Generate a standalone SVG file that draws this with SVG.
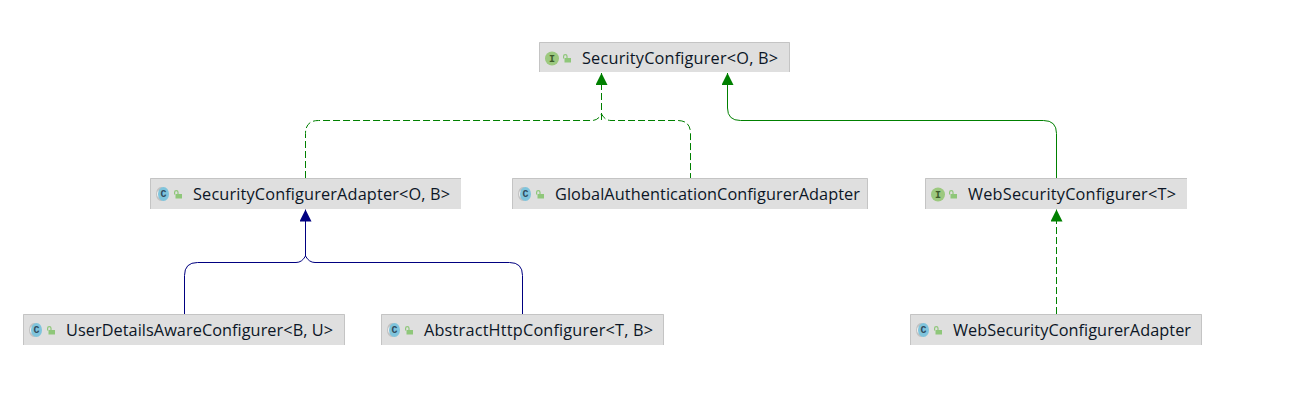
<svg xmlns="http://www.w3.org/2000/svg" width="1310" height="412" viewBox="0 0 1310 412">
<style>
.box{fill:#dfdfdf}
.top{fill:none;stroke:#c4c4c4;stroke-width:1}
.t{font-family:"Open Sans","Noto Sans","Liberation Sans",sans-serif;font-size:16.300px;fill:#0c1626}
.g{fill:none;stroke:#008000;stroke-width:1}
.d{stroke-dasharray:7 3}
.b{fill:none;stroke:#000080;stroke-width:1}
.ibg{fill:#9cc97f}
.il{font-family:"Liberation Mono",monospace;font-size:10px;font-weight:bold;fill:#3d5a2a;text-anchor:middle}
.cbg{fill:#7fc4dc}
.cb{fill:#c2c2c2}
.cl{font-family:"Liberation Mono",monospace;font-size:10px;font-weight:bold;fill:#2f4a5c;text-anchor:middle}
.lk{fill:#8fc77a}
.ls{fill:none;stroke:#8fc77a;stroke-width:1.200}
</style>
<defs>
<marker id="ag" markerUnits="userSpaceOnUse" markerWidth="12" markerHeight="12" refX="12" refY="6" orient="auto"><path d="M0,0L12,6L0,12Z" fill="#008000"/></marker>
<marker id="ab" markerUnits="userSpaceOnUse" markerWidth="12" markerHeight="12" refX="12" refY="6" orient="auto"><path d="M0,0L12,6L0,12Z" fill="#000080"/></marker>
<g id="lock"><rect class="lk" x="1.500" y="4" width="6.500" height="4.500"/><path class="ls" d="M0.600,4.500V2.200Q0.600,0.600 2.300,0.600Q4,0.600 4,2.200V4"/></g>
<g id="ii"><circle class="ibg" cx="0" cy="0.500" r="7"/><text class="il" x="0" y="3.500">I</text></g>
<g id="ci"><ellipse class="cb" cx="-2" cy="0" rx="5" ry="7"/><circle cx="-2" cy="0" r="4" fill="#eeeeee"/><ellipse class="cbg" cx="0.500" cy="0" rx="5.500" ry="7"/><text class="cl" x="0.500" y="3">C</text></g>
</defs>
<rect width="1310" height="412" fill="#ffffff"/>
<g id="connectors">
<path class="g d" marker-end="url(#ag)" d="M601.500,120V73"/>
<path class="g d" d="M305.500,178V133.500Q305.500,120.500 318.500,120.500H592Q598,120.500 601.500,114Q605,120.500 611,120.500H677.500Q690.500,120.500 690.500,133.500V178"/>
<path class="g" marker-end="url(#ag)" d="M1056.500,178V133.500Q1056.500,120.500 1043.500,120.500H740.500Q727.500,120.500 727.500,108V73"/>
<path class="g d" marker-end="url(#ag)" d="M1056.500,314V209.500"/>
<path class="b" marker-end="url(#ab)" d="M305.500,256V209.500"/>
<path class="b" d="M184.500,314V275.500Q184.500,262.500 197.500,262.500H296Q302,262.500 305.500,256Q309,262.500 315,262.500H509.500Q522.500,262.500 522.500,275.500V314"/>
</g>
<g id="n1"><rect class="box" x="539" y="42" width="251" height="30"/><path class="top" d="M539.500,72V42.500H789.500V72"/><use href="#ii" x="552" y="58"/><use href="#lock" x="563" y="54"/><text class="t" x="582" y="64" textLength="196" lengthAdjust="spacing">SecurityConfigurer&lt;O, B&gt;</text></g>
<g id="n2"><rect class="box" x="150" y="178" width="311" height="31"/><path class="top" d="M150.500,209V178.500H461"/><use href="#ci" x="163" y="194"/><use href="#lock" x="174" y="190"/><text class="t" x="193" y="200" textLength="257" lengthAdjust="spacing">SecurityConfigurerAdapter&lt;O, B&gt;</text></g>
<g id="n3"><rect class="box" x="512" y="178" width="356" height="31"/><path class="top" d="M512.500,209V178.500H867.500V209"/><use href="#ci" x="525" y="194"/><use href="#lock" x="536" y="190"/><text class="t" x="555" y="200" textLength="305" lengthAdjust="spacing">GlobalAuthenticationConfigurerAdapter</text></g>
<g id="n4"><rect class="box" x="925" y="178" width="262" height="31"/><path class="top" d="M925.500,209V178.500H1187"/><use href="#ii" x="938" y="194"/><use href="#lock" x="949" y="190"/><text class="t" x="968" y="200" textLength="208" lengthAdjust="spacing">WebSecurityConfigurer&lt;T&gt;</text></g>
<g id="n5"><rect class="box" x="23" y="314" width="322" height="31"/><path class="top" d="M23.500,345V314.500H344.500V345"/><use href="#ci" x="36" y="330"/><use href="#lock" x="47" y="326"/><text class="t" x="66" y="336" textLength="267" lengthAdjust="spacing">UserDetailsAwareConfigurer&lt;B, U&gt;</text></g>
<g id="n6"><rect class="box" x="381" y="314" width="283" height="31"/><path class="top" d="M381.500,345V314.500H663.500V345"/><use href="#ci" x="394" y="330"/><use href="#lock" x="405" y="326"/><text class="t" x="424" y="336" textLength="229" lengthAdjust="spacing">AbstractHttpConfigurer&lt;T, B&gt;</text></g>
<g id="n7"><rect class="box" x="910" y="314" width="292" height="31"/><path class="top" d="M910.500,345V314.500H1201.500V345"/><use href="#ci" x="923" y="330"/><use href="#lock" x="934" y="326"/><text class="t" x="953" y="336" textLength="238" lengthAdjust="spacing">WebSecurityConfigurerAdapter</text></g>
</svg>
